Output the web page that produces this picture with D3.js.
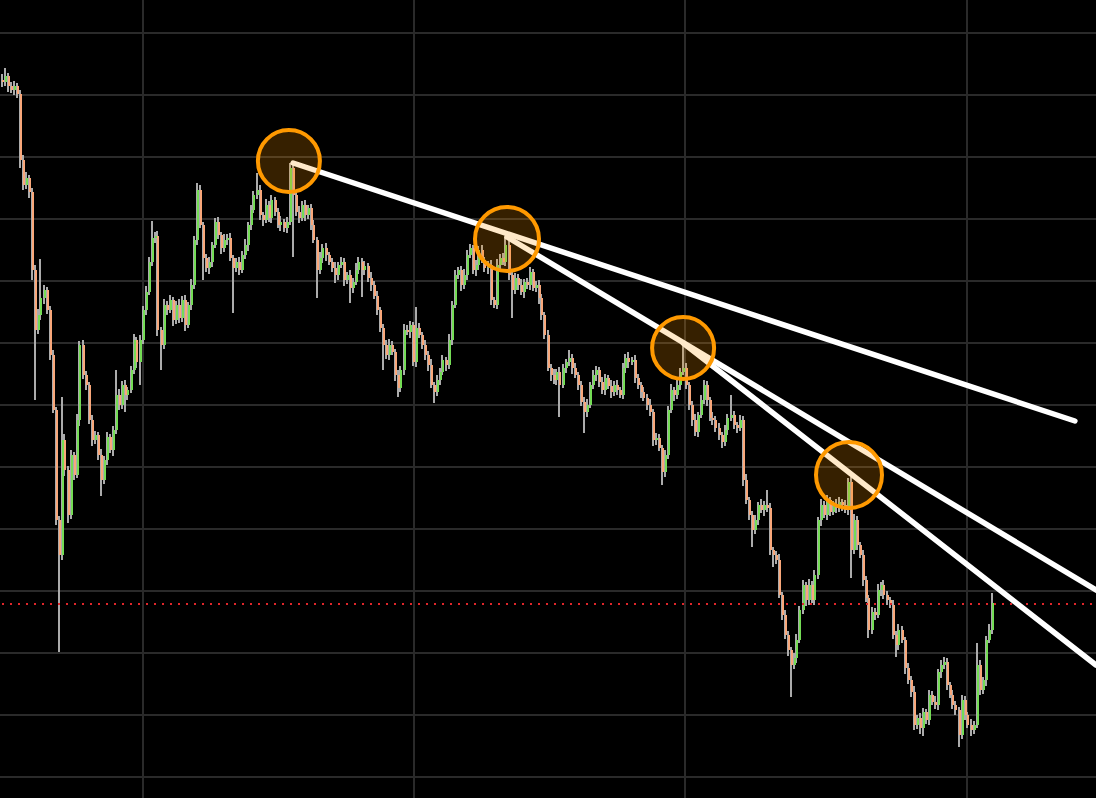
<!DOCTYPE html>
<html>
<head>
<meta charset="utf-8">
<script src="https://cdn.jsdelivr.net/npm/d3@7"></script>
<style>
  html, body { margin: 0; padding: 0; background: #000; overflow: hidden; }
  svg { display: block; }
</style>
</head>
<body>
<svg id="chart" width="1096" height="798"></svg>
<script>
// ---------- DATA ----------
const firstOpen = 720;
const closes = [
  718,724,714,710,714,706,640,615,622,608,
  530,470,485,502,510,490,445,390,280,245,
  360,330,285,345,325,380,455,425,415,380,
  360,365,345,320,340,363,350,370,405,395,
  415,405,410,430,460,438,460,490,508,538,
  562,564,470,455,495,490,500,480,495,482,
  500,475,495,515,560,610,575,542,532,538,
  555,578,565,552,560,562,542,532,538,530,
  545,555,575,590,605,610,585,580,595,582,
  600,588,575,578,572,578,632,605,588,582,
  595,585,592,575,560,530,542,552,545,538,
  532,525,535,538,520,525,512,518,530,538,
  530,534,522,515,504,490,472,455,445,455,
  448,425,412,430,470,468,475,438,472,465,
  455,445,435,415,408,420,428,440,435,460,
  495,525,530,515,525,545,552,530,535,550,
  540,532,535,500,495,535,542,538,555,525,
  510,522,515,508,518,515,528,512,515,502,
  485,465,432,425,420,428,415,432,438,442,
  432,425,415,398,388,395,415,425,430,418,
  410,422,414,408,415,410,405,432,442,438,
  440,422,415,408,402,395,388,360,362,352,
  328,345,390,410,405,415,428,432,415,395,
  380,368,385,400,415,400,382,380,372,365,
  358,370,382,385,375,372,380,320,300,285,
  270,280,295,290,295,292,250,245,240,205,
  185,165,150,135,142,160,190,215,200,215,
  200,225,280,295,285,300,288,295,292,298,
  295,290,318,250,280,255,245,220,202,170,
  188,185,210,215,205,200,195,165,155,170,
  160,132,120,108,75,82,72,88,80,105,
  98,95,128,135,138,115,105,95,90,65,
  100,85,75,70,75,135,110,120,160,170,
  197
];
const wickUp = [
  6,8,3,4,5,3,4,5,6,3,
  4,5,6,39,5,3,4,5,3,4,
  43,6,4,5,3,6,4,5,4,3,
  5,4,3,6,4,5,3,4,25,6,
  4,5,3,4,6,3,5,4,6,5,
  17,4,5,3,6,4,5,3,4,6,
  4,5,3,6,4,7,5,3,4,5,
  3,4,5,3,6,4,5,3,4,5,
  4,6,3,5,4,17,5,3,6,4,
  5,3,4,6,3,5,5,4,3,6,
  4,5,3,4,5,3,6,4,5,3,
  4,6,3,5,4,3,5,4,7,5,
  4,5,3,6,4,5,3,4,5,6,
  4,3,5,4,6,5,4,3,21,5,
  3,5,4,6,3,5,4,5,3,6,
  4,5,3,4,6,5,4,3,5,4,
  5,3,4,5,3,6,4,5,8,4,
  3,5,4,6,3,4,5,3,4,5,
  4,3,5,4,6,3,5,4,3,8,
  4,5,3,4,5,6,3,5,4,3,
  5,4,3,6,4,5,3,5,4,6,
  3,5,4,3,5,4,6,3,5,4,
  3,5,4,6,3,5,4,28,5,3,
  4,6,3,5,5,4,3,6,4,5,
  3,5,4,20,4,3,5,4,6,3,
  4,5,3,6,4,15,5,3,4,6,
  3,5,4,3,5,6,4,5,3,6,
  4,5,3,6,4,5,3,4,6,5,
  3,5,4,5,6,4,3,5,4,3,
  5,4,6,3,5,4,3,5,4,6,
  4,3,5,4,6,3,5,4,3,5,
  4,6,3,5,5,4,3,5,4,3,
  5,4,3,6,4,22,5,3,4,6,
  10
];
const wickDn = [
  5,4,6,3,5,4,8,5,4,6,
  10,70,4,5,6,4,5,3,5,97,
  5,6,8,4,5,3,6,4,5,4,
  6,4,5,16,4,5,3,6,4,5,
  4,17,5,3,4,6,23,4,5,3,
  4,5,6,25,4,5,3,6,4,5,
  4,6,3,5,4,5,3,22,4,6,
  5,3,4,6,4,5,3,45,4,5,
  3,4,6,5,3,4,5,6,3,4,
  5,4,3,6,4,5,3,62,4,5,
  3,6,4,5,3,28,4,5,6,3,
  4,8,5,3,6,4,15,5,3,4,
  27,5,4,6,3,5,4,25,4,5,
  3,6,9,4,5,3,6,4,5,3,
  4,5,6,3,11,4,5,3,6,4,
  5,3,4,6,4,5,3,4,6,5,
  3,4,6,5,3,4,5,3,4,5,
  28,4,5,3,6,4,5,3,4,6,
  5,4,3,6,4,5,32,3,5,4,
  6,3,5,4,21,5,3,4,6,5,
  4,5,3,6,4,5,3,4,5,6,
  3,5,4,6,3,5,4,6,5,3,
  13,5,4,3,6,4,5,3,4,5,
  6,4,5,3,4,6,3,5,4,5,
  6,4,5,3,4,5,3,6,4,5,
  17,4,5,3,6,4,5,12,4,3,
  5,4,6,32,4,5,3,4,6,5,
  3,5,4,6,3,5,4,3,5,4,
  6,3,5,28,4,5,3,6,4,8,
  4,5,3,6,4,5,3,4,12,5,
  3,6,4,5,5,4,6,8,4,5,
  3,4,5,6,4,5,3,4,5,12,
  4,5,3,6,4,3,5,4,6,3,
  4
];
// horizontal / vertical grid positions (price / candle index)
const priceGrid = [767,705,643,581,519,457,395,333,271,209,147,85,23];
const indexGrid = [47.17,137.5,227.83,321.83];
// trend lines: [startIndex, startPrice, endIndex, endPrice]
const trendStartIdx = [97.2, 168.5, 227.2];
const trendStartPrice = [637, 563, 457];
const trendEndIdx = [357.8, 364.8, 364.8];
const trendEndPrice = [379, 210, 135];
// highlighted touch points
const touchIdx = [95.8, 168.5, 227.2, 282.5];
const touchPrice = [639, 561, 452, 325];
const touchRadius = [31, 32, 31, 33];

// ---------- BUILD ----------
const W = 1096, H = 798;
const svg = d3.select("#chart");
svg.append("rect").attr("width", W).attr("height", H).attr("fill", "#000");

const x = d3.scaleLinear().domain([0, closes.length - 1]).range([1.5, 991.5]);
const y = d3.scaleLinear().domain([0, 800]).range([800, 0]);

const candles = closes.map((c, i) => {
  const o = i === 0 ? firstOpen : closes[i - 1];
  return { i, o, c, h: Math.max(o, c) + wickUp[i], l: Math.min(o, c) - wickDn[i] };
});

// grid
const grid = svg.append("g").attr("stroke", "#2a2a2a").attr("stroke-width", 2);
grid.selectAll("line.h").data(priceGrid).join("line")
  .attr("x1", 0).attr("x2", W).attr("y1", d => y(d)).attr("y2", d => y(d));
grid.selectAll("line.v").data(indexGrid).join("line")
  .attr("y1", 0).attr("y2", H).attr("x1", d => Math.round(x(d))).attr("x2", d => Math.round(x(d)));

// candles
const cg = svg.append("g").attr("shape-rendering", "crispEdges");
cg.selectAll("rect.w").data(candles).join("rect")
  .attr("x", d => Math.round(x(d.i)) - 1)
  .attr("width", 2)
  .attr("y", d => y(d.h))
  .attr("height", d => Math.max(1, y(d.l) - y(d.h)))
  .attr("fill", "#ababab");
cg.selectAll("rect.b").data(candles).join("rect")
  .attr("x", d => Math.round(x(d.i)))
  .attr("width", 2)
  .attr("y", d => y(Math.max(d.o, d.c)))
  .attr("height", d => Math.max(1, Math.abs(y(d.o) - y(d.c))))
  .attr("fill", d => d.c >= d.o ? "#74dc55" : "#f9a77a");

// last price dotted line
const last = closes[closes.length - 1];
svg.append("line")
  .attr("x1", 2).attr("x2", W).attr("y1", Math.round(y(last)) + 1).attr("y2", Math.round(y(last)) + 1)
  .attr("stroke", "#e0262a").attr("stroke-width", 2).attr("stroke-dasharray", "2,6");

// trend lines
svg.append("g").selectAll("line").data(trendStartIdx).join("line")
  .attr("x1", (d, k) => x(d)).attr("y1", (d, k) => y(trendStartPrice[k]))
  .attr("x2", (d, k) => x(trendEndIdx[k])).attr("y2", (d, k) => y(trendEndPrice[k]))
  .attr("stroke", "#ffffff").attr("stroke-width", 5.5).attr("stroke-linecap", "round");

// touch circles
svg.append("g").selectAll("circle").data(touchIdx).join("circle")
  .attr("cx", d => x(d)).attr("cy", (d, k) => y(touchPrice[k]))
  .attr("r", (d, k) => touchRadius[k])
  .attr("fill", "rgba(255,153,0,0.21)")
  .attr("stroke", "#ff9900").attr("stroke-width", 4);
</script>
</body>
</html>
